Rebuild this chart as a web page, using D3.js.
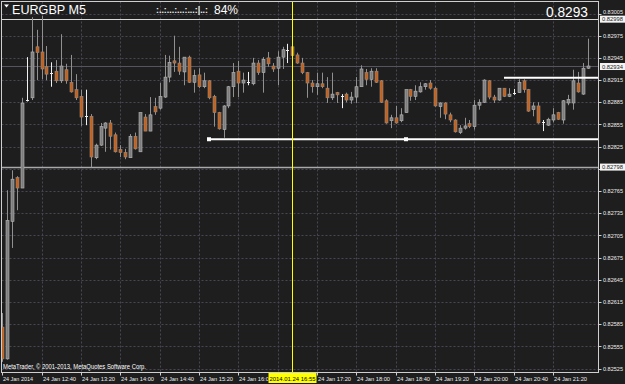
<!DOCTYPE html>
<meta charset="utf-8">
<style>
body { margin: 0; background: #1e1e1e; }
svg { display: block; font-family: "Liberation Sans", "DejaVu Sans", sans-serif; }
.grid line { stroke: #474753; stroke-dasharray: 2,2; }
.axis text { fill: #ececec; font-size: 6px; }
.axis line { stroke: #d0d0d0; }
</style>

<svg width="625" height="384"></svg>

<script src="https://d3js.org/d3.v7.min.js"></script>
<script>

// EURGBP M5, 24 Jan 2014, bars from 12:00 to 21:55
var opens = [
  0.82581,0.82538,0.82724,0.82783,0.82769,0.82888,0.82891,0.82960,0.82953,0.82933,
  0.82924,0.82927,0.82914,0.82929,0.82912,0.82902,0.82893,0.82866,0.82866,0.82810,
  0.82827,0.82850,0.82857,0.82841,0.82821,0.82817,0.82810,0.82839,0.82818,0.82865,
  0.82846,0.82879,0.82877,0.82892,0.82919,0.82941,0.82938,0.82926,0.82946,0.82912,
  0.82922,0.82906,0.82914,0.82893,0.82871,0.82848,0.82880,0.82906,0.82927,0.82911,
  0.82913,0.82910,0.82938,0.82925,0.82945,0.82934,0.82931,0.82946,0.82956,0.82960,
  0.82949,0.82938,0.82925,0.82911,0.82906,0.82910,0.82904,0.82891,0.82898,0.82894,
  0.82896,0.82888,0.82892,0.82906,0.82925,0.82916,0.82927,0.82914,0.82887,0.82860,
  0.82864,0.82860,0.82871,0.82902,0.82893,0.82899,0.82906,0.82911,0.82904,0.82879,
  0.82884,0.82868,0.82861,0.82844,0.82850,0.82856,0.82852,0.82881,0.82885,0.82914,
  0.82892,0.82888,0.82904,0.82893,0.82897,0.82898,0.82914,0.82902,0.82875,0.82880,
  0.82858,0.82854,0.82861,0.82871,0.82861,0.82884,0.82884,0.82911,0.82896,0.82931
];
var highs = [
  0.82600,0.82766,0.82793,0.82785,0.82891,0.82946,0.83000,0.82983,0.83002,0.82961,
  0.82939,0.82942,0.82977,0.82937,0.82949,0.82923,0.82902,0.82902,0.82869,0.82829,
  0.82857,0.82858,0.82861,0.82844,0.82827,0.82822,0.82842,0.82844,0.82871,0.82869,
  0.82892,0.82891,0.82911,0.82949,0.82948,0.82975,0.82960,0.82946,0.82948,0.82929,
  0.82931,0.82925,0.82915,0.82895,0.82872,0.82881,0.82907,0.82938,0.82941,0.82925,
  0.82926,0.82945,0.82942,0.82946,0.82953,0.82938,0.82954,0.82960,0.82964,0.82964,
  0.82952,0.82945,0.82926,0.82915,0.82925,0.82925,0.82919,0.82925,0.82899,0.82896,
  0.82898,0.82899,0.82919,0.82935,0.82930,0.82931,0.82931,0.82915,0.82889,0.82868,
  0.82880,0.82877,0.82902,0.82903,0.82908,0.82912,0.82911,0.82915,0.82906,0.82885,
  0.82885,0.82871,0.82862,0.82854,0.82864,0.82861,0.82888,0.82889,0.82916,0.82915,
  0.82895,0.82904,0.82904,0.82904,0.82903,0.82916,0.82916,0.82903,0.82885,0.82885,
  0.82861,0.82864,0.82877,0.82872,0.82888,0.82895,0.82929,0.82926,0.82938,0.82971
];
var lows = [
  0.82534,0.82537,0.82688,0.82739,0.82769,0.82886,0.82888,0.82915,0.82916,0.82915,
  0.82906,0.82911,0.82911,0.82910,0.82898,0.82888,0.82853,0.82854,0.82797,0.82808,
  0.82826,0.82818,0.82821,0.82817,0.82811,0.82808,0.82810,0.82821,0.82818,0.82846,
  0.82846,0.82868,0.82875,0.82891,0.82912,0.82926,0.82922,0.82908,0.82911,0.82898,
  0.82904,0.82904,0.82889,0.82852,0.82848,0.82837,0.82877,0.82892,0.82892,0.82898,
  0.82908,0.82908,0.82922,0.82898,0.82933,0.82926,0.82908,0.82930,0.82938,0.82946,
  0.82937,0.82923,0.82891,0.82898,0.82895,0.82904,0.82884,0.82888,0.82884,0.82877,
  0.82885,0.82883,0.82884,0.82906,0.82908,0.82906,0.82911,0.82884,0.82856,0.82850,
  0.82856,0.82858,0.82871,0.82887,0.82888,0.82898,0.82902,0.82902,0.82879,0.82864,
  0.82862,0.82858,0.82844,0.82842,0.82848,0.82850,0.82848,0.82875,0.82884,0.82889,
  0.82884,0.82887,0.82892,0.82892,0.82895,0.82898,0.82898,0.82872,0.82866,0.82856,
  0.82846,0.82853,0.82858,0.82861,0.82856,0.82881,0.82875,0.82898,0.82895,0.82930
];
var closes = [
  0.82538,0.82725,0.82781,0.82769,0.82884,0.82888,0.82953,0.82952,0.82930,0.82923,
  0.82924,0.82914,0.82934,0.82914,0.82899,0.82891,0.82865,0.82866,0.82811,0.82827,
  0.82852,0.82857,0.82839,0.82818,0.82817,0.82811,0.82839,0.82822,0.82871,0.82846,
  0.82868,0.82872,0.82893,0.82919,0.82939,0.82938,0.82927,0.82946,0.82912,0.82921,
  0.82906,0.82914,0.82891,0.82871,0.82849,0.82880,0.82906,0.82925,0.82911,0.82915,
  0.82913,0.82938,0.82925,0.82943,0.82937,0.82930,0.82946,0.82956,0.82956,0.82948,
  0.82938,0.82925,0.82911,0.82906,0.82910,0.82906,0.82891,0.82896,0.82895,0.82894,
  0.82888,0.82892,0.82906,0.82930,0.82916,0.82927,0.82912,0.82885,0.82857,0.82864,
  0.82857,0.82868,0.82902,0.82893,0.82900,0.82906,0.82910,0.82904,0.82880,0.82884,
  0.82869,0.82861,0.82845,0.82850,0.82853,0.82852,0.82881,0.82885,0.82915,0.82892,
  0.82888,0.82904,0.82893,0.82896,0.82897,0.82912,0.82902,0.82873,0.82880,0.82857,
  0.82858,0.82862,0.82868,0.82862,0.82887,0.82889,0.82914,0.82899,0.82931,0.82934
];

var priceTicks = [0.82525,0.82555,0.82585,0.82615,0.82645,0.82675,0.82705,0.82735,0.82765,
                  0.82795,0.82825,0.82855,0.82885,0.82915,0.82945,0.82975,0.83005];
var timeBars   = [0, 8, 16, 24, 32, 40, 48, 56, 64, 72, 80, 88, 96, 104, 112];
var timeLabels = ["24 Jan 2014","24 Jan 12:40","24 Jan 13:20","24 Jan 14:00","24 Jan 14:40",
                  "24 Jan 15:20","24 Jan 16:00","24 Jan 16:40","24 Jan 17:20","24 Jan 18:00",
                  "24 Jan 18:40","24 Jan 19:20","24 Jan 20:00","24 Jan 20:40","24 Jan 21:20"];

var levelHigh = 0.82998, levelLow = 0.82798, bid = 0.82934;
var rayStart = [42, 102], rayPrice = [0.82835, 0.82918], rayAnchor2 = 82;
var crossBar = 59, crossLabel = "2014.01.24 16:55";

var svg = d3.select("svg"),
    L = 1.5, R = 598.5, T = 1.5, B = 372.5;

var x = d3.scaleLinear().domain([0, 119]).range([2.2, 587.5]);
var y = d3.scaleLinear().domain([0.82525, 0.83005]).range([368.5, 13.5]);
function px(i) { return Math.round(x(i)); }
function py(p) { return Math.round(y(p)) + 0.5; }

svg.append("rect").attr("width", 625).attr("height", 384).attr("fill", "#1e1e1e");

svg.append("clipPath").attr("id", "plot")
  .append("rect").attr("x", L).attr("y", T).attr("width", R - L).attr("height", B - T);

// grid
var grid = svg.append("g").attr("class", "grid");
grid.selectAll("line.h").data(priceTicks).enter().append("line")
    .attr("x1", L).attr("x2", R)
    .attr("y1", py).attr("y2", py);
grid.selectAll("line.v").data(timeBars.slice(1)).enter().append("line")
    .attr("x1", function(d) { return px(d) + 0.5; })
    .attr("x2", function(d) { return px(d) + 0.5; })
    .attr("y1", T).attr("y2", B);

var plot = svg.append("g").attr("clip-path", "url(#plot)");

// level lines
plot.append("line").attr("x1", L).attr("x2", R).attr("y1", py(bid)).attr("y2", py(bid))
    .attr("stroke", "#55555f");
plot.append("line").attr("x1", L).attr("x2", R).attr("y1", py(levelHigh)).attr("y2", py(levelHigh))
    .attr("stroke", "#d8d8d8");
plot.append("line").attr("x1", L).attr("x2", R).attr("y1", py(levelLow)).attr("y2", py(levelLow))
    .attr("stroke", "#a9a9a9").attr("stroke-width", 1.5);

// candles
var idx = d3.range(opens.length);
var bars = plot.append("g").selectAll("g").data(idx).enter().append("g");

bars.append("line")
    .attr("x1", function(i) { return px(i) + 0.5; })
    .attr("x2", function(i) { return px(i) + 0.5; })
    .attr("y1", function(i) { return y(highs[i]); })
    .attr("y2", function(i) { return y(lows[i]); })
    .attr("stroke", function(i) { return opens[i] == closes[i] ? "#f0f0f0" : "#909090"; });

bars.filter(function(i) { return opens[i] != closes[i]; })
  .append("rect")
    .attr("x", function(i) { return px(i) - 1; })
    .attr("width", 3)
    .attr("y", function(i) { return y(Math.max(opens[i], closes[i])); })
    .attr("height", function(i) { return Math.max(1, Math.abs(y(opens[i]) - y(closes[i]))); })
    .attr("fill", function(i) { return closes[i] > opens[i] ? "#7d7d7d" : "#c4621c"; })
    .attr("stroke", function(i) { return closes[i] > opens[i] ? "#b8b8b8" : "#9a8a80"; })
    .attr("stroke-width", 0.6);

bars.filter(function(i) { return opens[i] == closes[i]; })
  .append("line")
    .attr("x1", function(i) { return px(i) - 1; })
    .attr("x2", function(i) { return px(i) + 2; })
    .attr("y1", function(i) { return py(opens[i]); })
    .attr("y2", function(i) { return py(opens[i]); })
    .attr("stroke", "#f0f0f0");

// rays
rayStart.forEach(function(b, k) {
  plot.append("line")
      .attr("x1", px(b)).attr("x2", R)
      .attr("y1", y(rayPrice[k])).attr("y2", y(rayPrice[k]))
      .attr("stroke", "#ffffff").attr("stroke-width", 2);
});
[rayStart[0], rayAnchor2].forEach(function(b) {
  plot.append("rect").attr("x", px(b) - 2).attr("y", y(rayPrice[0]) - 2)
      .attr("width", 4).attr("height", 4).attr("fill", "#ffffff");
});

// crosshair
plot.append("line")
    .attr("x1", px(crossBar) + 0.5).attr("x2", px(crossBar) + 0.5)
    .attr("y1", T).attr("y2", B)
    .attr("stroke", "#ffff00");

// frame
svg.append("rect").attr("x", L).attr("y", T).attr("width", R - L).attr("height", B - T)
    .attr("fill", "none").attr("stroke", "#cfcfcf");

// price axis
var pax = svg.append("g").attr("class", "axis");
var tags = [levelHigh, bid, levelLow];
var shown = priceTicks.filter(function(p) {
  return !tags.some(function(t) { return Math.abs(y(t) - y(p)) < 4; });
});
pax.selectAll("line").data(priceTicks).enter().append("line")
    .attr("x1", R).attr("x2", R + 3).attr("y1", py).attr("y2", py);
pax.selectAll("text").data(shown).enter().append("text")
    .attr("x", 603)
    .attr("y", function(d) { return y(d) + (d == priceTicks[priceTicks.length - 1] ? 0.5 : 2.2); })
    .attr("textLength", 20).attr("lengthAdjust", "spacingAndGlyphs")
    .text(function(d) { return d.toFixed(5); });

tags.forEach(function(p) {
  pax.append("rect").attr("x", 600).attr("y", y(p) - 3).attr("width", 25).attr("height", 7)
      .attr("fill", "#f4f4f4");
  pax.append("text").attr("x", 602).attr("y", y(p) + 2.6)
      .attr("textLength", 21).attr("lengthAdjust", "spacingAndGlyphs")
      .style("fill", "#1e1e1e")
      .text(p.toFixed(5));
});

// time axis
var cx = px(crossBar) + 0.5;
var boxL = cx - 24, boxR = cx + 24;
svg.append("clipPath").attr("id", "tcut")
  .append("rect").attr("x", 0).attr("y", 360).attr("width", boxL).attr("height", 24);

var tax = svg.append("g").attr("class", "axis");
tax.selectAll("line").data(timeBars).enter().append("line")
    .attr("x1", function(d) { return px(d) + 0.5; })
    .attr("x2", function(d) { return px(d) + 0.5; })
    .attr("y1", B).attr("y2", B + 3);
var visible = timeBars.filter(function(d) { return px(d) < boxL || px(d) > boxR; });
tax.selectAll("text").data(visible).enter().append("text")
    .attr("x", function(d) { return px(d) + 1; })
    .attr("y", 381)
    .attr("clip-path", function(d) { return px(d) < boxL ? "url(#tcut)" : null; })
    .attr("textLength", function(d) { return d == 0 ? 30 : 33; })
    .attr("lengthAdjust", "spacingAndGlyphs")
    .text(function(d) { return timeLabels[timeBars.indexOf(d)]; });

tax.append("rect").attr("x", boxL).attr("y", 373).attr("width", 48).attr("height", 10)
    .attr("fill", "#ffff00");
tax.append("text").attr("x", boxL + 1).attr("y", 381)
    .attr("textLength", 46).attr("lengthAdjust", "spacingAndGlyphs")
    .style("fill", "#000").text(crossLabel);

// header
svg.append("path").attr("d", "M4,4.5L9,4.5L6.5,7.5Z").attr("fill", "#ffffff");
svg.append("text").attr("x", 12).attr("y", 13.5)
    .attr("font-size", 12).attr("fill", "#ffffff")
    .attr("textLength", 74).attr("lengthAdjust", "spacingAndGlyphs")
    .text("EURGBP M5");
svg.append("text").attr("x", 156).attr("y", 13)
    .attr("font-size", 9).attr("font-weight", "bold").attr("fill", "#f0f0f0")
    .attr("textLength", 52).attr("lengthAdjust", "spacingAndGlyphs")
    .text(":..:...:...:...:|..:");
svg.append("text").attr("x", 214).attr("y", 13.5)
    .attr("font-size", 12).attr("fill", "#ffffff")
    .text("84%");
svg.append("text").attr("x", 546).attr("y", 17.3)
    .attr("font-size", 14).attr("fill", "#ffffff")
    .attr("textLength", 42).attr("lengthAdjust", "spacingAndGlyphs")
    .text(closes[closes.length - 1].toFixed(4));

svg.append("text").attr("x", 3).attr("y", 369)
    .attr("font-size", 6.5).attr("fill", "#ffffff")
    .attr("textLength", 143).attr("lengthAdjust", "spacingAndGlyphs")
    .text("MetaTrader, © 2001-2013, MetaQuotes Software Corp.");

</script>
